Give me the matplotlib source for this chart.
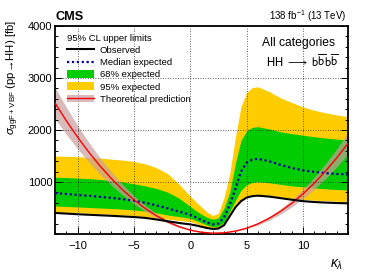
import numpy as np
import matplotlib
matplotlib.use("Agg")
import matplotlib.pyplot as plt
from matplotlib.lines import Line2D
from matplotlib.patches import Patch

plt.rcParams['font.family'] = ['Liberation Sans', 'DejaVu Sans']
plt.rcParams['mathtext.fontset'] = 'custom'
plt.rcParams['mathtext.rm'] = 'Liberation Sans'
plt.rcParams['mathtext.it'] = 'Liberation Sans:italic'
plt.rcParams['mathtext.bf'] = 'Liberation Sans:bold'

# ---- data ----
kl = [-12, -11, -10, -9, -8, -7, -6, -5, -4, -3, -2, -1, 0, 0.5, 1, 1.5, 2, 2.5,
      3, 3.5, 4, 4.5, 5, 5.5, 6, 7, 8, 9, 10, 11, 12, 13, 14]
observed = [405, 393, 380, 370, 360, 350, 338, 327, 310, 280, 245, 212, 185, 165, 140, 115, 97, 105,
            170, 340, 510, 630, 700, 728, 737, 720, 690, 660, 632, 615, 604, 596, 590]
expected = [785, 770, 750, 735, 715, 695, 670, 640, 600, 550, 494, 430, 370, 320, 270, 220, 186, 200,
            320, 560, 860, 1200, 1370, 1430, 1445, 1400, 1330, 1270, 1225, 1195, 1170, 1155, 1145]
exp68_hi = [1090, 1085, 1075, 1065, 1050, 1030, 1000, 965, 925, 875, 805, 690, 530, 450, 380, 320, 285, 310,
            500, 800, 1350, 1800, 1980, 2050, 2064, 2020, 1965, 1930, 1900, 1870, 1845, 1825, 1808]
exp68_lo = [540, 530, 520, 510, 500, 490, 478, 462, 440, 405, 365, 335, 300, 260, 215, 170, 141, 150,
            230, 430, 640, 840, 945, 990, 1005, 985, 955, 925, 905, 885, 870, 855, 846]
exp95_hi = [1500, 1495, 1487, 1475, 1460, 1440, 1420, 1395, 1350, 1275, 1160, 960, 730, 620, 520, 420, 355, 400,
            700, 1150, 1850, 2450, 2720, 2815, 2830, 2740, 2620, 2530, 2445, 2380, 2330, 2290, 2256]
exp95_lo = [430, 420, 410, 400, 390, 380, 368, 355, 335, 310, 285, 260, 237, 200, 165, 130, 109, 115,
            190, 370, 540, 660, 735, 757, 760, 745, 715, 685, 665, 650, 640, 630, 622]

kl_theo = [-12, -11, -10, -9, -8, -7, -6, -5, -4, -3, -2, -1, 0, 1, 2, 3, 4, 5, 6, 7, 8, 9, 10, 11, 12, 13, 14]
theory = [2519, 2179, 1863, 1573, 1307, 1066, 850, 659, 492, 351, 234, 142, 75, 33, 15, 23, 55, 112, 194,
          301, 433, 589, 770, 976, 1207, 1463, 1744]
theory_unc_up = 0.12
theory_unc_dn = 0.12

xticks = [-10, -5, 0, 5, 10]
yticks = [1000, 2000, 3000, 4000]

# ---- figure ----
fig = plt.figure(figsize=(3.66, 2.75), dpi=100)
ax = fig.add_axes([55/366, 1-234/275, 293/366, 208/275])

kl_a = np.array(kl, float)
c_yellow = '#ffcc00'
c_green = '#00cc00'
c_blue = '#0000a0'
c_band = (0.79, 0.62, 0.62)

ax.fill_between(kl_a, exp95_lo, exp95_hi, color=c_yellow, lw=0, zorder=1)
ax.fill_between(kl_a, exp68_lo, exp68_hi, color=c_green, lw=0, zorder=1.1)
ax.plot(kl_a, expected, color=c_blue, ls=(0, (1, 1.2)), lw=1.6, zorder=3)
ax.plot(kl_a, observed, color='black', lw=1.5, zorder=3.2)

th = np.array(theory, float)
ax.fill_between(kl_theo, th*(1-theory_unc_dn), th*(1+theory_unc_up), color=c_band, alpha=0.7, lw=0, zorder=2)
ax.plot(kl_theo, th, color='red', lw=1.0, zorder=3.1)

ax.set_xlim(-12, 14)
ax.set_ylim(0, 4000)
ax.set_xticks(xticks)
ax.set_yticks(yticks)
ax.set_xticklabels(['\u221210', '\u22125', '0', '5', '10'])
ax.xaxis.set_minor_locator(matplotlib.ticker.MultipleLocator(1))
ax.yaxis.set_minor_locator(matplotlib.ticker.MultipleLocator(200))
ax.tick_params(which='both', direction='in', right=True, top=False, labelsize=8, width=0.7)
ax.tick_params(axis='x', pad=5)
ax.tick_params(axis='y', pad=2)
ax.tick_params(which='major', length=5)
ax.tick_params(which='minor', length=2.5)
for s in ax.spines.values():
    s.set_linewidth(1.3)

ax.set_axisbelow(False)
ax.grid(True, which='major', color='black', ls=(0, (1, 2)), lw=0.6, alpha=0.8)

ax.set_ylabel('$\\sigma_{\\mathrm{ggF+VBF}}$ (pp\u2192HH) [fb]', fontsize=8.2, ha='right', y=1.0)
ax.yaxis.set_label_coords(-0.115, 1.03)
ax.set_xlabel(r'$\kappa_{\lambda}$', fontsize=10, ha='right', x=1.0)
ax.xaxis.set_label_coords(0.985, -0.115)

fig.text(55/366, 1-20/275, 'CMS', fontsize=9.2, fontweight='bold', ha='left', va='baseline')
fig.text(346/366, 1-20/275, r'138 fb$^{-1}$ (13 TeV)', fontsize=7, ha='right', va='baseline')
ax.text(0.956, 0.905, 'All categories', transform=ax.transAxes, fontsize=8.7, ha='right', va='baseline')
ax.text(0.966, 0.805, r'$\mathrm{HH}\ \longrightarrow\ \mathrm{b}\overline{\mathrm{b}}\mathrm{b}\overline{\mathrm{b}}$',
        transform=ax.transAxes, fontsize=8.9, ha='right', va='baseline', math_fontfamily='stixsans')

handles = [
    Line2D([], [], color='black', lw=1.5),
    Line2D([], [], color=c_blue, ls=(0, (1, 1.2)), lw=1.6),
    Patch(facecolor=c_green, edgecolor='none'),
    Patch(facecolor=c_yellow, edgecolor='none'),
    (Patch(facecolor=c_band, alpha=0.7, edgecolor='none'), Line2D([], [], color='red', lw=1.0)),
]
labels = ['Observed', 'Median expected', '68% expected', '95% expected', 'Theoretical prediction']
leg = ax.legend(handles, labels, title='95% CL upper limits', loc='upper left',
                bbox_to_anchor=(0.02, 0.99), frameon=False, fontsize=6.8, title_fontsize=6.8,
                handlelength=2.9, handleheight=0.9, handletextpad=0.6, labelspacing=0.32,
                alignment='left', borderaxespad=0.2)
leg.set_zorder(5)

fig.savefig('out.png', dpi=100)
